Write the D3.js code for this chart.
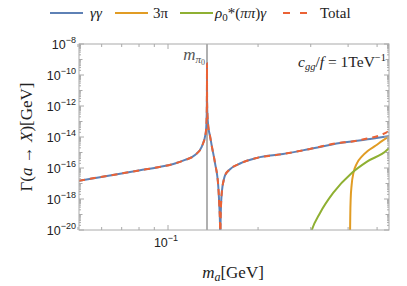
<!DOCTYPE html>
<html><head><meta charset="utf-8">
<script src="https://cdn.jsdelivr.net/npm/d3@7"></script>
<style>body{margin:0;background:#fff}svg{display:block}</style>
</head><body>
<svg id="c" width="407" height="286"></svg>
<script>
// ---- data (mass in GeV, log10 of width in GeV) ----
const ggMass = [0.0504,0.0592,0.0691,0.0806,0.0926,0.1055,0.1140,0.1231,0.1296,0.1337,0.1345,0.1348,0.13492,0.13498,0.1350,0.13502,0.1351,0.1355,0.1364,0.1382,0.1403,0.1436,0.1473,0.1484,0.1492,0.1495,0.1498,0.1504,0.1516,0.1533,0.1551,0.1612,0.1741,0.1982,0.2423,0.2983,0.3760,0.4737,0.548];
const ggLog  = [-16.82,-16.59,-16.37,-16.15,-15.95,-15.71,-15.48,-15.16,-14.63,-13.74,-13.0,-12.2,-11.3,-10.3,-9.25,-10.5,-11.8,-12.6,-13.35,-13.94,-14.65,-15.68,-17.23,-18.39,-19.6,-21.5,-19.8,-18.39,-17.42,-16.84,-16.48,-16.08,-15.71,-15.35,-15.10,-14.77,-14.39,-14.13,-13.94];
const pi3Mass = [0.4058,0.4061,0.4068,0.4080,0.4110,0.4170,0.4280,0.4450,0.4650,0.4950,0.5200,0.548];
const pi3Log  = [-22,-20.3,-19.0,-18.0,-17.1,-16.3,-15.7,-15.25,-14.9,-14.55,-14.25,-13.98];
const rhoMass = [0.298,0.3024,0.3223,0.3565,0.4114,0.4627,0.5397,0.548];
const rhoLog  = [-20.4,-20.0,-18.9,-17.61,-16.32,-15.59,-14.84,-14.71];
const totMass = [0.0504,0.0592,0.0691,0.0806,0.0926,0.1055,0.1140,0.1231,0.1296,0.1337,0.1345,0.1348,0.13492,0.13498,0.1350,0.13502,0.1351,0.1355,0.1364,0.1382,0.1403,0.1436,0.1473,0.1484,0.1492,0.1495,0.1498,0.1504,0.1516,0.1533,0.1551,0.1612,0.1741,0.1982,0.2423,0.2983,0.3760,0.4060,0.4278,0.4627,0.5107,0.548];
const totLog  = [-16.82,-16.59,-16.37,-16.15,-15.95,-15.71,-15.48,-15.16,-14.63,-13.74,-13.0,-12.2,-11.3,-10.3,-9.25,-10.5,-11.8,-12.6,-13.35,-13.94,-14.65,-15.68,-17.23,-18.39,-19.6,-21.5,-19.8,-18.39,-17.42,-16.84,-16.48,-16.08,-15.71,-15.35,-15.10,-14.77,-14.37,-14.31,-14.24,-14.10,-13.90,-13.62];
const mPi0 = 0.135;
const yTickExps = [-8,-10,-12,-14,-16,-18,-20];
const xMajorTicks = [0.1];
const xMinorTicks = [0.05,0.06,0.07,0.08,0.09,0.2,0.3,0.4,0.5];
const seriesNames = ["γγ","3π","ρ0*(ππ)γ","Total"];
const seriesColors = ["#5E81B5","#E19C24","#8FB032","#EB6235"];

// ---- layout ----
const svg = d3.select("#c");
const L = 79, R = 389, T = 44, B = 230;
const x = d3.scaleLog().domain([0.0504, 0.548]).range([L, R]);
const y = d3.scaleLog().domain([1e-20, 1e-8]).range([B, T]);
const frameCol = "#aaaaaa";
const sans = "'Liberation Sans', Arial, sans-serif";
const serif = "'Liberation Serif', 'Times New Roman', serif";

svg.append("clipPath").attr("id","clip").append("rect")
  .attr("x", L).attr("y", T).attr("width", R-L).attr("height", B-T);

// pi0 line
svg.append("line").attr("x1", x(mPi0)).attr("x2", x(mPi0)).attr("y1", T).attr("y2", B)
  .attr("stroke", "#b0b0b0").attr("stroke-width", 2);

// curves
const line = d3.line().x(d => x(d[0])).y(d => y(Math.pow(10, d[1]))).curve(d3.curveMonotoneX);
const g = svg.append("g").attr("clip-path", "url(#clip)");
const sets = [[ggMass, ggLog], [pi3Mass, pi3Log], [rhoMass, rhoLog], [totMass, totLog]];
sets.forEach((s, i) => {
  const pts = s[0].map((m, k) => [m, Math.max(s[1][k], -24)]);
  g.append("path").attr("d", line(pts)).attr("fill", "none")
    .attr("stroke", seriesColors[i]).attr("stroke-width", 2)
    .attr("stroke-dasharray", i === 3 ? "6,5" : null);
});

// frame
svg.append("rect").attr("x", L).attr("y", T).attr("width", R-L).attr("height", B-T)
  .attr("fill", "none").attr("stroke", frameCol).attr("stroke-width", 1);

// y ticks
const tk = svg.append("g").attr("stroke", frameCol).attr("stroke-width", 1);
for (let e = -20; e <= -8; e++) {
  const major = (e % 2 === 0);
  const len = major ? 5 : 3.5;
  const yy = y(Math.pow(10, e));
  tk.append("line").attr("x1", L).attr("x2", L+len).attr("y1", yy).attr("y2", yy);
  tk.append("line").attr("x1", R).attr("x2", R-len).attr("y1", yy).attr("y2", yy);
  if (e < -8) {
    [2,3,4,5,6,7,8,9].forEach(k => {
      const yv = y(k * Math.pow(10, e));
      tk.append("line").attr("x1", L).attr("x2", L+2).attr("y1", yv).attr("y2", yv);
      tk.append("line").attr("x1", R).attr("x2", R-2).attr("y1", yv).attr("y2", yv);
    });
  }
}
// x ticks
xMajorTicks.concat(xMinorTicks).forEach(v => {
  const len = xMajorTicks.includes(v) ? 5 : 3;
  const xx = x(v);
  tk.append("line").attr("x1", xx).attr("x2", xx).attr("y1", B).attr("y2", B-len);
  tk.append("line").attr("x1", xx).attr("x2", xx).attr("y1", T).attr("y2", T+len);
});

// y labels
yTickExps.forEach(e => {
  const t = svg.append("text").attr("x", L-3).attr("y", y(Math.pow(10, e)) + 5)
    .attr("text-anchor", "end").attr("font-family", sans).attr("font-size", 12.5).attr("fill", "#222");
  t.append("tspan").text("10");
  t.append("tspan").attr("font-size", 9).attr("dy", -6).text("−" + Math.abs(e));
});
// x labels
xMajorTicks.forEach(v => {
  const t = svg.append("text").attr("x", x(v) - 2).attr("y", B + 17)
    .attr("text-anchor", "middle").attr("font-family", sans).attr("font-size", 12.5).attr("fill", "#222");
  t.append("tspan").text("10");
  t.append("tspan").attr("font-size", 9).attr("dy", -6).text("−1");
});

// axis titles
const xt = svg.append("text").attr("x", 233).attr("y", 278).attr("text-anchor", "middle")
  .attr("font-family", serif).attr("font-size", 17).attr("fill", "#222");
xt.append("tspan").attr("font-style", "italic").text("m");
xt.append("tspan").attr("font-style", "italic").attr("font-size", 12).attr("dy", 3).text("a");
xt.append("tspan").attr("dy", -3).text("[GeV]");

const yt = svg.append("text").attr("transform", "translate(32,137) rotate(-90)").attr("text-anchor", "middle")
  .attr("font-family", serif).attr("font-size", 17).attr("fill", "#222");
yt.append("tspan").text("Γ(");
yt.append("tspan").attr("font-style", "italic").text("a");
yt.append("tspan").text(" → ");
yt.append("tspan").attr("font-style", "italic").text("X");
yt.append("tspan").text(")[GeV]");

// annotations
const mp = svg.append("text").attr("x", x(mPi0) - 2).attr("y", 60).attr("text-anchor", "end")
  .attr("font-family", serif).attr("font-size", 17).attr("fill", "#555");
mp.append("tspan").attr("font-style", "italic").text("m");
mp.append("tspan").attr("font-style", "italic").attr("font-size", 11).attr("dy", 3).text("π");
mp.append("tspan").attr("font-size", 8).attr("dy", 2).text("0");

const cg = svg.append("text").attr("x", 386).attr("y", 67).attr("text-anchor", "end")
  .attr("font-family", serif).attr("font-size", 15.5).attr("fill", "#222");
cg.append("tspan").attr("font-style", "italic").text("c");
cg.append("tspan").attr("font-style", "italic").attr("font-size", 10.5).attr("dy", 3).text("gg");
cg.append("tspan").attr("dy", -3).text("/");
cg.append("tspan").attr("font-style", "italic").text("f");
cg.append("tspan").text(" = 1TeV");
cg.append("tspan").attr("font-size", 10.5).attr("dy", -6).text("−1");

// legend
const legX = [50, 115, 180, 283];
const legTX = [90, 153, 215, 320];
seriesNames.forEach((n, i) => {
  svg.append("line").attr("x1", legX[i]).attr("x2", legX[i] + (i === 3 ? 24 : 33)).attr("y1", 13).attr("y2", 13)
    .attr("stroke", seriesColors[i]).attr("stroke-width", 2)
    .attr("stroke-dasharray", i === 3 ? "7,10" : null);
  const t = svg.append("text").attr("x", legTX[i]).attr("y", 18)
    .attr("font-family", serif).attr("font-size", 15).attr("fill", "#222");
  if (i === 0) t.append("tspan").attr("font-style", "italic").text(n);
  else if (i === 2) {
    t.append("tspan").attr("font-style", "italic").text("ρ");
    t.append("tspan").attr("font-size", 11).attr("dy", 3).text("0");
    t.append("tspan").attr("dy", -3).text("*(");
    t.append("tspan").attr("font-style", "italic").text("ππ");
    t.append("tspan").text(")");
    t.append("tspan").attr("font-style", "italic").text("γ");
  } else t.text(n);
});
</script>
</body></html>
